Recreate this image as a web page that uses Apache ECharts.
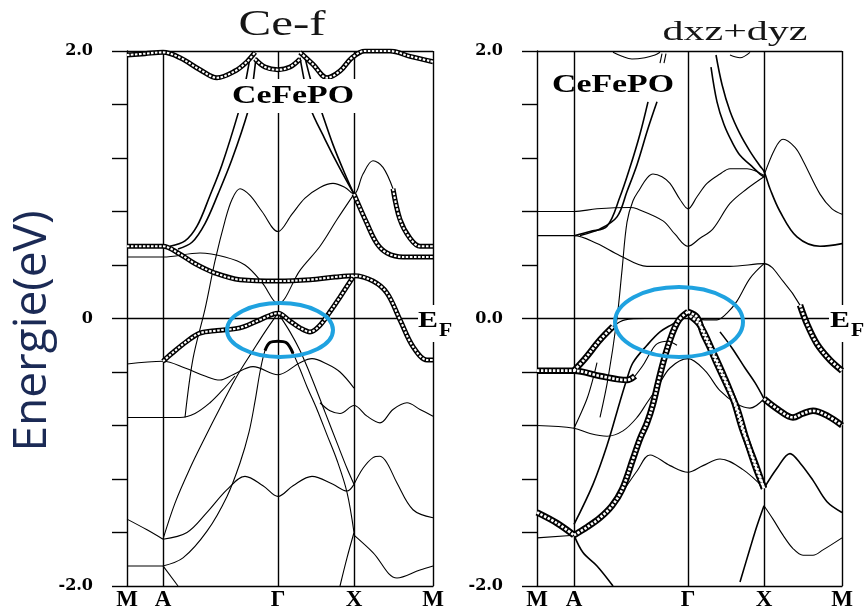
<!DOCTYPE html>
<html><head><meta charset="utf-8">
<script src="https://cdn.jsdelivr.net/npm/echarts@6.0.0/dist/echarts.min.js"></script>
<style>html,body{margin:0;padding:0;background:#fff}#c{width:864px;height:612px}</style>
</head><body><div id="c"></div>
<script>
// ---------- high-symmetry path ----------
const kLeft = [0, 0.36, 1.51, 2.27, 3.06];
const kRight = [0, 0.37, 1.51, 2.27, 3.05];
const kLabels = ['M', 'A', 'Γ', 'X', 'M'];
const yLabelValues = [-2, 0, 2];
const yLabelsLeft = ['-2.0', '0', '2.0'];
const yLabelsRight = ['-2.0', '0.0', '2.0'];

// ---------- left panel (Ce-f) bands: [k, E(eV)] ----------
const L_top1 = [[0,1.97],[0.18,1.98],[0.36,1.99],[0.53,1.95],[0.73,1.86],[0.90,1.80],[1.08,1.85],[1.20,1.92],[1.28,1.99]];
const L_top2 = [[1.28,1.94],[1.38,1.88],[1.51,1.86],[1.63,1.88],[1.73,1.94]];
const L_top3 = [[1.73,1.99],[1.86,1.90],[2.00,1.80],[2.13,1.85],[2.25,1.95],[2.38,2.00],[2.63,2.00],[2.83,1.96],[3.06,1.92]];
const L_steepL1 = [[1.23,1.95],[1.17,1.71],[1.11,1.53],[0.95,1.15],[0.83,0.92],[0.70,0.69],[0.58,0.58],[0.43,0.54]];
const L_steepL2 = [[1.29,1.95],[1.25,1.71],[1.21,1.55],[1.05,1.19],[0.91,0.93],[0.78,0.71],[0.65,0.57],[0.51,0.52]];
const L_steepR1 = [[1.73,1.95],[1.78,1.75],[1.83,1.58],[1.98,1.34],[2.13,1.12],[2.27,0.93]];
const L_steepR2 = [[1.78,1.95],[1.85,1.75],[1.93,1.58],[2.06,1.30],[2.18,1.08],[2.27,0.93]];
const L_XMfat1 = [[2.27,0.93],[2.40,0.71],[2.50,0.56],[2.60,0.49],[2.76,0.46],[3.06,0.46]];
const L_hump = [[0.58,-0.74],[0.66,-0.30],[0.78,0.07],[0.88,0.43],[0.98,0.73],[1.05,0.89],[1.13,0.97],[1.23,0.92],[1.35,0.80],[1.51,0.65],[1.65,0.78],[1.78,0.90],[1.93,0.98],[2.06,1.01],[2.18,0.98],[2.27,0.93],[2.36,1.08],[2.46,1.18],[2.56,1.13],[2.66,0.97]];
const L_XMfat2 = [[2.66,0.97],[2.73,0.74],[2.83,0.60],[2.93,0.54],[3.06,0.54]];
const L_fatF = [[0,0.54],[0.36,0.54],[0.51,0.49],[0.68,0.41],[0.88,0.34],[1.13,0.29],[1.51,0.28],[1.83,0.29],[2.08,0.31],[2.27,0.32],[2.46,0.28],[2.60,0.19],[2.73,-0.01],[2.86,-0.21],[3.00,-0.31],[3.06,-0.31]];
const L_V = [[0,0.46],[0.36,0.46],[0.73,0.49],[0.98,0.46],[1.18,0.40],[1.35,0.27],[1.51,0.11],[1.73,0.36],[1.93,0.54],[2.10,0.74],[2.27,0.93]];
const L_ellipse = [[0.36,-0.32],[0.45,-0.26],[0.60,-0.17],[0.73,-0.11],[0.90,-0.09],[1.13,-0.07],[1.33,-0.01],[1.51,0.04],[1.63,-0.02],[1.73,-0.07],[1.83,-0.10],[1.93,-0.05],[2.03,0.05],[2.13,0.16],[2.27,0.32]];
const L_lamL = [[1.51,0.04],[1.38,-0.10],[1.26,-0.24],[1.10,-0.43],[0.93,-0.67],[0.78,-0.89],[0.63,-1.12],[0.48,-1.38],[0.36,-1.65]];
const L_lamR = [[1.51,0.04],[1.63,-0.10],[1.73,-0.24],[1.85,-0.45],[1.98,-0.70],[2.10,-0.93],[2.20,-1.12],[2.27,-1.24]];
const L_flat = [[0.36,-1.85],[0.56,-1.79],[0.80,-1.59],[1.00,-1.33],[1.13,-1.08],[1.22,-0.85],[1.28,-0.62],[1.33,-0.40],[1.38,-0.24],[1.43,-0.18],[1.51,-0.17],[1.59,-0.18],[1.66,-0.26],[1.73,-0.38],[1.80,-0.51],[1.90,-0.68],[2.00,-0.87],[2.10,-1.06],[2.20,-1.30],[2.27,-1.60]];
const L_flatBar = [[1.38,-0.24],[1.43,-0.18],[1.51,-0.17],[1.59,-0.18],[1.66,-0.26]];
const L_bowl = [[0,-0.34],[0.36,-0.32],[0.58,-0.37],[0.78,-0.43],[0.93,-0.46],[1.06,-0.42],[1.26,-0.36],[1.51,-0.42],[1.73,-0.33],[1.85,-0.30],[2.00,-0.34],[2.13,-0.40],[2.27,-0.52]];
const L_XM07 = [[1.93,-0.63],[2.03,-0.69],[2.13,-0.71],[2.27,-0.65],[2.40,-0.73],[2.53,-0.78],[2.66,-0.68],[2.80,-0.63],[2.93,-0.68],[3.06,-0.73]];
const L_M074 = [[0,-0.74],[0.36,-0.74],[0.53,-0.74],[0.68,-0.71],[0.83,-0.63],[0.95,-0.54],[1.08,-0.43]];
const L_M150 = [[0,-1.50],[0.20,-1.58],[0.36,-1.65]];
const L_wavy = [[0.36,-1.65],[0.60,-1.60],[0.80,-1.45],[1.00,-1.28],[1.18,-1.18],[1.36,-1.25],[1.51,-1.33],[1.66,-1.25],[1.85,-1.18],[2.06,-1.24],[2.20,-1.29],[2.27,-1.24]];
const L_XM1 = [[2.27,-1.24],[2.36,-1.12],[2.46,-1.04],[2.53,-1.03],[2.60,-1.08],[2.70,-1.23],[2.86,-1.43],[3.06,-1.49]];
const L_XM2 = [[2.27,-1.62],[2.46,-1.75],[2.70,-1.94],[2.93,-1.88],[3.06,-1.85]];
const L_botX = [[2.13,-2.00],[2.20,-1.79],[2.27,-1.60]];
const L_Mbot = [[0,-1.85],[0.36,-1.85]];
const L_Adown = [[0.36,-1.85],[0.51,-2.00]];

// ---------- right panel (dxz+dyz) bands ----------
const R_top1 = [[0.76,1.99],[0.85,1.96],[0.95,1.94],[1.08,1.95],[1.18,1.97],[1.23,1.99]];
const R_top2 = [[1.93,1.97],[2.03,1.95],[2.13,1.99]];
const R_tick1 = [[1.25,1.98],[1.23,1.91]];
const R_tick2 = [[1.29,1.98],[1.27,1.91]];
const R_SP1 = [[0.38,0.62],[0.53,0.65],[0.70,0.69],[0.83,0.91],[0.93,1.13],[1.03,1.38],[1.11,1.62]];
const R_SP2 = [[0.43,0.62],[0.63,0.67],[0.80,0.76],[0.90,0.95],[1.00,1.15],[1.11,1.42],[1.20,1.62]];
const R_SR1 = [[1.79,1.97],[1.85,1.75],[1.93,1.55],[2.03,1.38],[2.13,1.25],[2.23,1.14],[2.27,1.10],[2.33,0.97],[2.43,0.80],[2.60,0.61],[2.83,0.54],[3.05,0.56]];
const R_SR2 = [[1.74,1.88],[1.80,1.62],[1.87,1.45],[1.95,1.32],[2.03,1.22],[2.13,1.15],[2.23,1.08],[2.27,1.06]];
const R_hump = [[0.63,-0.74],[0.71,-0.45],[0.80,0.00],[0.85,0.36],[0.90,0.72],[0.96,0.88],[1.03,0.97],[1.10,1.05],[1.16,1.08],[1.25,1.06],[1.33,1.01],[1.43,0.89],[1.51,0.82],[1.60,0.91],[1.70,1.01],[1.83,1.08],[1.93,1.12],[2.10,1.12],[2.27,1.07]];
const R_XMpeak = [[2.27,1.07],[2.38,1.27],[2.46,1.34],[2.58,1.28],[2.66,1.18],[2.83,0.93],[2.95,0.82],[3.05,0.78]];
const R_B80 = [[0,0.80],[0.37,0.80],[0.60,0.82],[0.93,0.83],[1.00,0.82],[1.26,0.73],[1.38,0.63],[1.51,0.54],[1.63,0.60],[1.76,0.67],[1.93,0.86],[2.10,0.97],[2.27,1.06]];
const R_B62 = [[0,0.62],[0.37,0.62],[0.60,0.56],[0.83,0.47],[1.10,0.39],[1.51,0.39],[1.93,0.39],[2.27,0.41],[2.46,0.28],[2.63,0.10],[2.70,-0.04],[2.80,-0.19],[2.93,-0.31],[3.05,-0.39]];
const R_B62fat = [[2.63,0.10],[2.70,-0.04],[2.80,-0.19],[2.93,-0.31],[3.05,-0.39]];
const R_EF = [[0.37,-0.39],[0.48,-0.30],[0.63,-0.16],[0.76,-0.06],[0.88,-0.01],[1.08,0.00],[1.28,0.00],[1.51,0.00],[1.68,-0.01],[1.80,-0.01],[1.90,0.04],[2.00,0.13],[2.13,0.30],[2.27,0.41]];
const R_EFfat = [[0.37,-0.39],[0.48,-0.30],[0.63,-0.16],[0.76,-0.06]];
const R_fatM = [[0,-0.39],[0.37,-0.39],[0.63,-0.43],[0.90,-0.46],[0.98,-0.43]];
const R_dome = [[0.98,-0.43],[1.06,-0.35],[1.13,-0.26],[1.20,-0.19],[1.30,-0.17],[1.40,-0.20]];
const R_GL1 = [[0.37,-1.62],[0.50,-1.56],[0.63,-1.49],[0.75,-1.40],[0.85,-1.28],[0.96,-1.05],[1.03,-0.90],[1.10,-0.78],[1.16,-0.64],[1.22,-0.45],[1.28,-0.28],[1.35,-0.12],[1.42,-0.01],[1.51,0.05]];
const R_GL2 = [[0.37,-1.54],[0.56,-1.24],[0.70,-0.95],[0.83,-0.62],[0.90,-0.45],[0.96,-0.33],[1.10,-0.20],[1.23,-0.10],[1.36,-0.04],[1.51,0.03]];
const R_GR1 = [[1.51,0.05],[1.60,0.01],[1.66,-0.11],[1.73,-0.22],[1.80,-0.34],[1.90,-0.50],[2.00,-0.67],[2.08,-0.87],[2.18,-1.10],[2.27,-1.27]];
const R_GR2 = [[1.53,0.02],[1.63,-0.05],[1.76,-0.25],[1.88,-0.45],[1.97,-0.62],[2.05,-0.82],[2.13,-0.98],[2.20,-1.12],[2.27,-1.27]];
const R_R3 = [[1.83,-0.10],[1.95,-0.22],[2.08,-0.37],[2.18,-0.48],[2.27,-0.60]];
const R_bowl = [[0,-0.80],[0.37,-0.82],[0.53,-0.86],[0.70,-0.88],[0.86,-0.84],[1.00,-0.74],[1.10,-0.63],[1.20,-0.52],[1.33,-0.37],[1.51,-0.30],[1.68,-0.39],[1.83,-0.54],[2.00,-0.64],[2.13,-0.67],[2.27,-0.60]];
const R_XM06 = [[2.27,-0.60],[2.41,-0.68],[2.56,-0.74],[2.66,-0.71],[2.76,-0.69],[2.91,-0.73],[3.05,-0.80]];
const R_Asteep = [[0.37,-0.82],[0.42,-0.74],[0.50,-0.60],[0.56,-0.45],[0.60,-0.33]];
const R_wavy = [[0.37,-1.62],[0.63,-1.49],[0.83,-1.32],[1.00,-1.14],[1.13,-1.02],[1.33,-1.10],[1.51,-1.15],[1.66,-1.10],[1.83,-1.05],[2.06,-1.13],[2.27,-1.27]];
const R_Mfat2 = [[0,-1.45],[0.20,-1.53],[0.37,-1.62]];
const R_Mflat = [[0,-1.64],[0.37,-1.62]];
const R_Adown = [[0.37,-1.62],[0.46,-1.75],[0.60,-1.85],[0.76,-2.00]];
const R_XMlow1 = [[2.27,-1.27],[2.40,-1.12],[2.53,-1.01],[2.63,-1.08],[2.76,-1.21],[2.90,-1.37],[3.05,-1.45]];
const R_XMlow2 = [[2.27,-1.40],[2.36,-1.50],[2.46,-1.62],[2.56,-1.72],[2.66,-1.77],[2.76,-1.77],[2.86,-1.73],[3.05,-1.64]];
const R_botX = [[2.03,-1.97],[2.13,-1.72],[2.20,-1.55],[2.27,-1.40]];

// ---------- band lists (data, style) ----------
const leftBands = [
  [L_hump,'thin'],[L_V,'thin'],[L_lamL,'thin'],[L_lamR,'thin'],[L_bowl,'thin'],[L_XM07,'thin'],
  [L_M074,'thin'],[L_M150,'thin'],[L_wavy,'thin'],[L_XM1,'thin'],[L_XM2,'thin'],[L_botX,'thin'],
  [L_Mbot,'thin'],[L_Adown,'thin'],[L_flat,'thin'],
  [L_steepL1,'mid'],[L_steepL2,'mid'],[L_steepR1,'mid'],[L_steepR2,'mid'],[L_flatBar,'bar'],
  [L_top1,'fat'],[L_top2,'fat'],[L_top3,'fat'],[L_fatF,'fat'],[L_ellipse,'fat'],[L_XMfat1,'fat'],[L_XMfat2,'fat']
];
const rightBands = [
  [R_top1,'thin'],[R_top2,'thin'],[R_tick1,'thin'],[R_tick2,'thin'],[R_hump,'thin'],[R_XMpeak,'thin'],
  [R_B80,'thin'],[R_B62,'thin'],[R_EF,'thin'],[R_dome,'thin'],[R_bowl,'thin'],[R_Asteep,'thin'],
  [R_wavy,'thin'],[R_Mflat,'thin'],[R_XMlow2,'thin'],
  [R_SP1,'mid'],[R_SP2,'mid'],[R_SR1,'mid'],[R_SR2,'mid'],[R_GL2,'mid'],[R_R3,'mid'],[R_Adown,'mid'],
  [R_XMlow1,'mid'],[R_botX,'mid'],
  [R_GL1,'fat'],[R_GR1,'fat'],[R_GR2,'fat'],[R_EFfat,'fat'],[R_fatM,'fat'],[R_B62fat,'fat'],[R_XM06,'fat'],[R_Mfat2,'fat']
];

const series = [];
function addBand(data, gi, kind) {
  const base = {type:'line', xAxisIndex:gi, yAxisIndex:gi, data:data, smooth:0.35, showSymbol:false, silent:true, animation:false};
  if (kind === 'thin') {
    series.push(Object.assign({}, base, {lineStyle:{color:'#000', width:1.1}, z:3}));
  } else if (kind === 'mid') {
    series.push(Object.assign({}, base, {lineStyle:{color:'#000', width:1.6}, z:4}));
  } else if (kind === 'bar') {
    series.push(Object.assign({}, base, {lineStyle:{color:'#000', width:3}, z:4}));
  } else {
    const w = gi === 0 ? 5 : 6.5;
    series.push(Object.assign({}, base, {lineStyle:{color:'#000', width:w}, z:5}));
    series.push(Object.assign({}, base, {lineStyle:{color:'#fff', width:w*0.42, type:[2.5,1.5]}, z:6}));
  }
}
leftBands.forEach(b => addBand(b[0], 0, b[1]));
rightBands.forEach(b => addBand(b[0], 1, b[1]));

function frameSeries(gi, ks) {
  const lines = ks.slice(1).map(k => ({xAxis:k}));
  lines.push({yAxis:0});
  lines.push({yAxis:2});
  return {type:'line', xAxisIndex:gi, yAxisIndex:gi, data:[], silent:true, animation:false, z:2,
    markLine:{symbol:['none','none'], silent:true, animation:false, label:{show:false},
      lineStyle:{color:'#000', width:1.4, type:'solid'}, data:lines}};
}
series.push(frameSeries(0, kLeft));
series.push(frameSeries(1, kRight));

function xAxis(gi, ks) {
  return {type:'value', gridIndex:gi, min:ks[0], max:ks[ks.length-1],
    axisLine:{show:true, onZero:false, lineStyle:{color:'#000', width:1.4}},
    axisTick:{show:false}, splitLine:{show:false},
    axisLabel:{show:true, customValues:ks, margin:3,
      formatter: v => { const i = ks.findIndex(k => Math.abs(k-v) < 1e-6); return i >= 0 ? kLabels[i] : ''; },
      color:'#000', fontFamily:'Liberation Serif', fontWeight:'bold', fontSize:23}};
}
function yAxis(gi, labels) {
  return {type:'value', gridIndex:gi, min:-2, max:2, interval:0.4,
    axisLine:{show:true, onZero:false, lineStyle:{color:'#000', width:1.4}},
    axisTick:{show:true, inside:false, length:15, lineStyle:{color:'#000', width:1.4}},
    splitLine:{show:false},
    axisLabel:{show:true, margin:34, color:'#000', fontFamily:'DejaVu Serif', fontWeight:'bold', fontSize:16,
      formatter: v => { const i = yLabelValues.findIndex(t => Math.abs(t-v) < 1e-6); return i >= 0 ? labels[i] : ''; }}};
}

const option = {
  animation:false,
  backgroundColor:'#fff',
  grid:[{left:127, top:51, width:306, height:537}, {left:537, top:51, width:305, height:537}],
  xAxis:[xAxis(0, kLeft), xAxis(1, kRight)],
  yAxis:[yAxis(0, yLabelsLeft), yAxis(1, yLabelsRight)],
  series: series,
  graphic:[
    {type:'text', x:282, y:26, scaleX:1.4, z:50, style:{text:'Ce-f', fontFamily:'Liberation Serif', fontSize:35, fill:'#161616', align:'center', verticalAlign:'middle'}},
    {type:'text', x:735, y:33, scaleX:1.5, z:50, style:{text:'dxz+dyz', fontFamily:'Liberation Serif', fontSize:28, fill:'#161616', align:'center', verticalAlign:'middle'}},
    {type:'text', x:293, y:96, scaleX:1.3, z:50, style:{text:'CeFePO', fontFamily:'Liberation Serif', fontWeight:'bold', fontSize:26, fill:'#000', align:'center', verticalAlign:'middle', backgroundColor:'#fff', padding:[4,2]}},
    {type:'text', x:613, y:85, scaleX:1.3, z:50, style:{text:'CeFePO', fontFamily:'Liberation Serif', fontWeight:'bold', fontSize:26, fill:'#000', align:'center', verticalAlign:'middle'}},
    {type:'text', x:33, y:331, rotation:Math.PI/2, z:50, style:{text:'Energie(eV)', fontFamily:'Open Sans', fontSize:46, fill:'#1b2a55', align:'center', verticalAlign:'middle'}},
    {type:'rect', z:40, shape:{x:418, y:305, width:44, height:37}, style:{fill:'#fff'}},
    {type:'text', x:418, y:321, scaleX:1.3, z:50, style:{text:'E', fontFamily:'Liberation Serif', fontWeight:'bold', fontSize:23, fill:'#000', align:'left', verticalAlign:'middle'}},
    {type:'text', x:439, y:331, scaleX:1.2, z:50, style:{text:'F', fontFamily:'Liberation Serif', fontWeight:'bold', fontSize:18, fill:'#000', align:'left', verticalAlign:'middle'}},
    {type:'rect', z:40, shape:{x:829, y:305, width:40, height:37}, style:{fill:'#fff'}},
    {type:'text', x:830, y:321, scaleX:1.3, z:50, style:{text:'E', fontFamily:'Liberation Serif', fontWeight:'bold', fontSize:23, fill:'#000', align:'left', verticalAlign:'middle'}},
    {type:'text', x:851, y:331, scaleX:1.2, z:50, style:{text:'F', fontFamily:'Liberation Serif', fontWeight:'bold', fontSize:18, fill:'#000', align:'left', verticalAlign:'middle'}},
    {type:'ellipse', z:60, shape:{cx:280, cy:330, rx:53, ry:27}, style:{fill:'none', stroke:'#1fa2e0', lineWidth:4}},
    {type:'ellipse', z:60, shape:{cx:679, cy:322, rx:64, ry:35}, style:{fill:'none', stroke:'#1fa2e0', lineWidth:4}}
  ]
};
const chart = echarts.init(document.getElementById('c'), null, {renderer:'canvas'});
chart.setOption(option);
</script></body></html>
